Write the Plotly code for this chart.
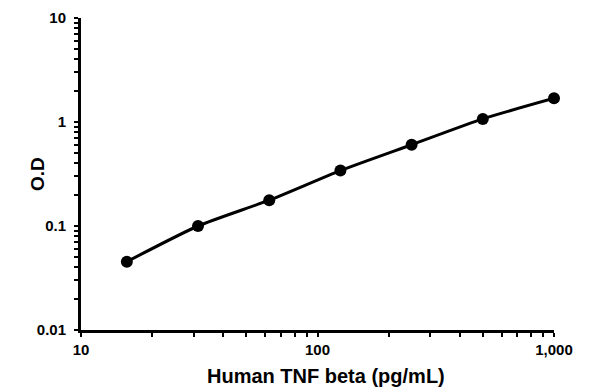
import plotly.graph_objects as go

concentration = [15.625, 31.25, 62.5, 125, 250, 500, 1000]
od_values = [0.0454, 0.100, 0.177, 0.341, 0.604, 1.07, 1.69]

x_tick_vals = [10, 100, 1000]
x_tick_text = ["10", "100", "1,000"]
y_tick_vals = [0.01, 0.1, 1, 10]
y_tick_text = ["0.01", "0.1", "1", "10"]

x_minor = [m * d for d in (10, 100) for m in range(2, 10)]
y_minor = [m * d for d in (0.01, 0.1, 1) for m in range(2, 10)]

fig = go.Figure()
fig.add_trace(go.Scatter(
    x=concentration, y=od_values, mode="lines+markers",
    line=dict(color="black", width=3, shape="spline", smoothing=0.6),
    marker=dict(color="black", size=12),
    showlegend=False, cliponaxis=False,
))

font_main = "Liberation Sans, Arial, sans-serif"
fig.update_layout(
    width=596, height=391,
    margin=dict(l=73, r=50, t=10, b=69, autoexpand=False),
    paper_bgcolor="white", plot_bgcolor="white",
    font=dict(family=font_main, color="black"),
)
fig.update_xaxes(
    type="log", range=[1, 3], automargin=False, ticklabeloverflow="allow",
    tickvals=x_tick_vals, ticktext=x_tick_text,
    tickfont=dict(size=15, family=font_main, weight="bold"),
    ticks="outside", ticklen=4, tickwidth=2, tickcolor="black",
    minor=dict(tickvals=x_minor, ticks="outside", ticklen=4, tickwidth=2, tickcolor="black"),
    showline=True, linecolor="black", linewidth=3,
    showgrid=False, zeroline=False,
)
fig.update_yaxes(
    type="log", range=[-2, 1], automargin=False, ticklabeloverflow="allow",
    tickvals=y_tick_vals, ticktext=y_tick_text,
    tickfont=dict(size=15, family=font_main, weight="bold"),
    ticks="outside", ticklen=4, tickwidth=2, tickcolor="black",
    ticklabelstandoff=5,
    minor=dict(tickvals=y_minor, ticks="outside", ticklen=4, tickwidth=2, tickcolor="black"),
    showline=True, linecolor="black", linewidth=3,
    showgrid=False, zeroline=False,
)
fig.add_annotation(
    text="Human TNF beta (pg/mL)", xref="paper", yref="paper", x=0.5, y=0,
    xanchor="center", yanchor="middle", xshift=8, yshift=-46, showarrow=False,
    font=dict(size=20, family=font_main, weight="bold", color="black"),
)
fig.add_annotation(
    text="O.D", xref="paper", yref="paper", x=0, y=0.5, textangle=-90,
    xanchor="center", yanchor="middle", xshift=-44, showarrow=False,
    font=dict(size=19, family=font_main, weight="bold", color="black"),
)

fig.write_html("out.html")
